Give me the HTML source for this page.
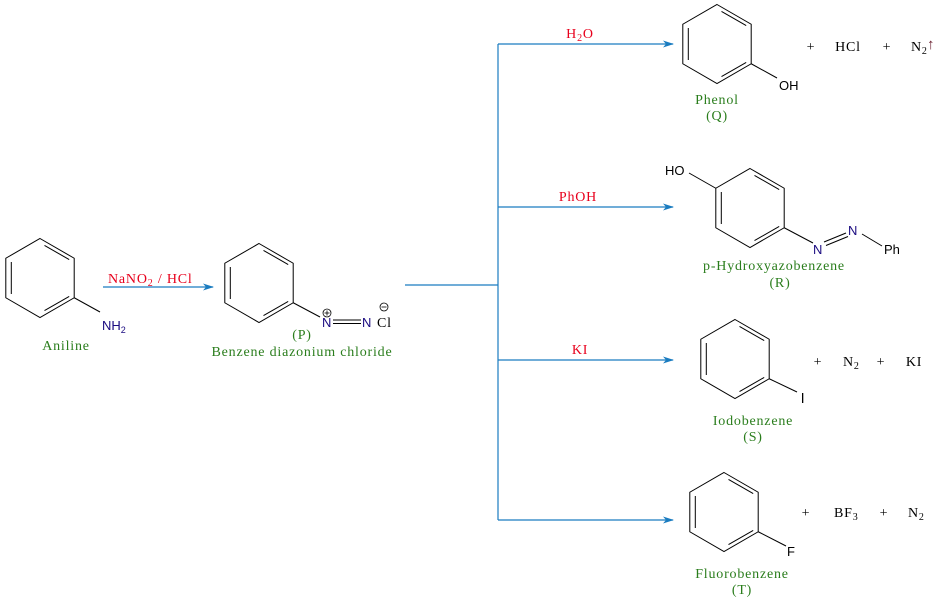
<!DOCTYPE html>
<html><head><meta charset="utf-8"><style>
html,body{margin:0;padding:0;background:#fff}
svg{display:block}
.t{font-family:"Liberation Serif",serif;font-size:14px;letter-spacing:0.8px}
.s{font-family:"Liberation Sans",sans-serif;font-size:13px;fill:#000}
.g{fill:#2a7d1c}
.r{fill:#e8001c}
</style></head><body>
<svg width="942" height="601" viewBox="0 0 942 601" xmlns="http://www.w3.org/2000/svg">
<defs>
<g id="bz" fill="none" stroke="#000" stroke-width="1">
<polygon points="0,-39.5 34.2,-19.75 34.2,19.75 0,39.5 -34.2,19.75 -34.2,-19.75"/>
<line x1="-28.7" y1="-16" x2="-28.7" y2="16"/>
<line x1="4.5" y1="-32.6" x2="29.2" y2="-18.4"/>
<line x1="29.2" y1="18.4" x2="4.5" y2="32.6"/>
</g>
<g id="ah"><polygon points="0,0 -11,-3.5 -8,0 -11,3.5" fill="#1a7cc0"/></g>
</defs>

<!-- Aniline -->
<use href="#bz" x="40" y="278"/>
<line x1="74.2" y1="297.75" x2="100" y2="312" stroke="#000"/>
<text x="102" y="330" class="s" style="fill:#1a0a80">NH<tspan font-size="9" dy="3">2</tspan></text>
<text x="66" y="350" class="t g" text-anchor="middle">Aniline</text>

<!-- arrow 1 -->
<line x1="103" y1="287" x2="213" y2="287" stroke="#1a7cc0" stroke-width="1.2"/>
<use href="#ah" x="214" y="287"/>
<text x="108" y="283" class="t r">NaNO<tspan font-size="10" dy="3">2</tspan><tspan dy="-3"> / HCl</tspan></text>

<!-- Diazonium -->
<use href="#bz" x="259" y="283"/>
<line x1="293.2" y1="302.75" x2="320" y2="317" stroke="#000"/>
<text x="322" y="327" class="s" style="fill:#1a0a80">N</text>
<circle cx="327" cy="313" r="4" fill="none" stroke="#000" stroke-width="0.8"/>
<line x1="324.5" y1="313" x2="329.5" y2="313" stroke="#000" stroke-width="0.8"/>
<line x1="327" y1="310.5" x2="327" y2="315.5" stroke="#000" stroke-width="0.8"/>
<line x1="333" y1="320" x2="361" y2="320" stroke="#000"/>
<line x1="333" y1="323.5" x2="361" y2="323.5" stroke="#000"/>
<text x="362" y="327" class="s" style="fill:#1a0a80">N</text>
<text x="377" y="327" class="t" fill="#000" font-size="15">Cl</text>
<circle cx="384" cy="307" r="4" fill="none" stroke="#000" stroke-width="0.8"/>
<line x1="381.5" y1="307" x2="386.5" y2="307" stroke="#000" stroke-width="0.8"/>
<text x="302" y="339" class="t g" text-anchor="middle" font-size="15">(P)</text>
<text x="302" y="356" class="t g" text-anchor="middle">Benzene diazonium chloride</text>

<!-- branch lines -->
<g stroke="#1a7cc0" stroke-width="1.2" fill="none">
<line x1="405" y1="285" x2="498" y2="285"/>
<line x1="498" y1="44" x2="498" y2="520"/>
<line x1="498" y1="44" x2="673" y2="44"/>
<line x1="498" y1="207" x2="673" y2="207"/>
<line x1="498" y1="360" x2="673" y2="360"/>
<line x1="498" y1="520" x2="673" y2="520"/>
</g>
<use href="#ah" x="674" y="44"/>
<use href="#ah" x="674" y="207"/>
<use href="#ah" x="674" y="360"/>
<use href="#ah" x="674" y="520"/>
<text x="580" y="38" class="t r" text-anchor="middle">H<tspan font-size="10" dy="3">2</tspan><tspan dy="-3">O</tspan></text>
<text x="578" y="201" class="t r" text-anchor="middle">PhOH</text>
<text x="580" y="354" class="t r" text-anchor="middle">KI</text>

<!-- Phenol -->
<use href="#bz" x="717" y="44"/>
<line x1="751.2" y1="63.75" x2="777" y2="78" stroke="#000"/>
<text x="779" y="90" class="s">OH</text>
<text x="717" y="104" class="t g" text-anchor="middle">Phenol</text>
<text x="717" y="120" class="t g" text-anchor="middle">(Q)</text>
<text x="811" y="51" class="t" text-anchor="middle">+</text>
<text x="848" y="51" class="t" text-anchor="middle">HCl</text>
<text x="887" y="51" class="t" text-anchor="middle">+</text>
<text x="911" y="51" class="t">N<tspan font-size="10" dy="3">2</tspan></text>
<text x="927" y="49" class="s" style="fill:#6a2030;font-size:15px">↑</text>

<!-- Hydroxyazobenzene -->
<use href="#bz" x="750" y="208"/>
<line x1="715.8" y1="188.25" x2="689" y2="173" stroke="#000"/>
<text x="665" y="175" class="s">HO</text>
<line x1="784.2" y1="227.75" x2="813" y2="243" stroke="#000"/>
<text x="813" y="254" class="s" style="fill:#1a0a80">N</text>
<line x1="824" y1="242" x2="846" y2="233" stroke="#000"/>
<line x1="826" y1="245.5" x2="848" y2="236.5" stroke="#000"/>
<text x="848" y="235" class="s" style="fill:#1a0a80">N</text>
<line x1="862" y1="234" x2="882" y2="246" stroke="#000"/>
<text x="884" y="254" class="s">Ph</text>
<text x="774" y="270" class="t g" text-anchor="middle">p-Hydroxyazobenzene</text>
<text x="780" y="287" class="t g" text-anchor="middle">(R)</text>

<!-- Iodobenzene -->
<use href="#bz" x="735" y="359"/>
<line x1="769.2" y1="378.75" x2="797" y2="392" stroke="#000"/>
<rect x="802" y="393" width="1.3" height="10" fill="#000"/>
<text x="753" y="425" class="t g" text-anchor="middle">Iodobenzene</text>
<text x="753" y="441" class="t g" text-anchor="middle">(S)</text>
<text x="818" y="366" class="t" text-anchor="middle">+</text>
<text x="843" y="366" class="t">N<tspan font-size="10" dy="3">2</tspan></text>
<text x="881" y="366" class="t" text-anchor="middle">+</text>
<text x="914" y="366" class="t" text-anchor="middle">KI</text>

<!-- Fluorobenzene -->
<use href="#bz" x="724" y="512"/>
<line x1="758.2" y1="531.75" x2="786" y2="546" stroke="#000"/>
<text x="787" y="556" class="s">F</text>
<text x="742" y="578" class="t g" text-anchor="middle">Fluorobenzene</text>
<text x="742" y="594" class="t g" text-anchor="middle">(T)</text>
<text x="806" y="517" class="t" text-anchor="middle">+</text>
<text x="834" y="517" class="t">BF<tspan font-size="10" dy="3">3</tspan></text>
<text x="884" y="517" class="t" text-anchor="middle">+</text>
<text x="908" y="517" class="t">N<tspan font-size="10" dy="3">2</tspan></text>
</svg>
</body></html>
